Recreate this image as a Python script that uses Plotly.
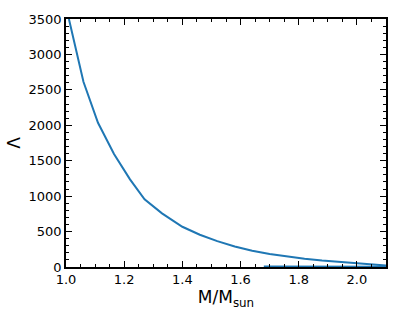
import plotly.graph_objects as go

# tidal deformability vs mass
mass = [1.01, 1.06, 1.11, 1.165, 1.22, 1.27, 1.33, 1.40, 1.46, 1.52, 1.58,
        1.64, 1.70, 1.76, 1.82, 1.88, 1.94, 2.00, 2.06, 2.10]
lam = [3500, 2614, 2035, 1594, 1237, 955, 757, 568, 455, 365, 290,
       230, 185, 148, 118, 93, 72, 52, 35, 22]

# second branch lying near zero
mass_low = [1.68, 1.80, 1.90, 2.00, 2.10]
lam_low = [8, 7, 6, 5, 4]

blue = '#1f77b4'

fig = go.Figure()
fig.add_trace(go.Scatter(x=mass_low, y=lam_low, mode='lines',
                         line=dict(color=blue, width=2)))
fig.add_trace(go.Scatter(x=mass, y=lam, mode='lines',
                         line=dict(color=blue, width=2)))

axis_common = dict(
    showgrid=False, zeroline=False, automargin=False,
    showline=True, linecolor='black', linewidth=1.5,
    mirror='allticks', ticks='inside', ticklen=6, tickwidth=1.2,
    tickcolor='black',
    tickfont=dict(family='DejaVu Sans', size=13, color='black'),
)

fig.update_layout(
    width=407, height=326,
    showlegend=False,
    plot_bgcolor='white', paper_bgcolor='white',
    margin=dict(l=66, r=21, t=19, b=59),
    xaxis=dict(range=[1.0, 2.1], dtick=0.2, tick0=1.0, tickformat='.1f',
               minor=dict(dtick=0.05, ticks='inside', ticklen=3.5,
                          tickcolor='black', tickwidth=1),
               title=dict(text='M/M<sub>sun</sub>', standoff=4,
                          font=dict(family='DejaVu Sans', size=17, color='black')),
               **axis_common),
    yaxis=dict(range=[0, 3500], dtick=500,
               minor=dict(dtick=100, ticks='inside', ticklen=3.5,
                          tickcolor='black', tickwidth=1),
               title=dict(text='Λ', standoff=4,
                          font=dict(family='DejaVu Sans', size=17, color='black')),
               **axis_common),
)

# drop the browser's default body margin so the figure sits at (0, 0)
fig.write_html("out.html", config={'displayModeBar': False},
               post_script="document.body.style.margin='0';")
